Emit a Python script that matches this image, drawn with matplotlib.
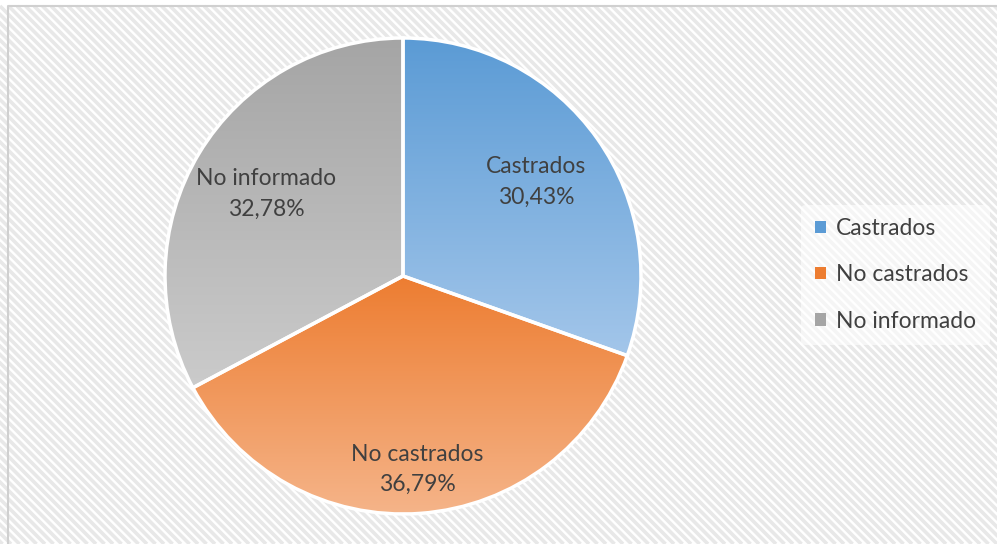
import numpy as np
import matplotlib.pyplot as plt
from matplotlib.collections import LineCollection
from matplotlib.colors import LinearSegmentedColormap
from matplotlib.patches import Rectangle

# Porcentaje de animales según castración
categorias = ['Castrados', 'No castrados', 'No informado']
porcentajes = [30.43, 36.79, 32.78]

# colores de cada porción (arriba -> abajo del degradado)
colores_sup = ['#5b9bd5', '#ed7d31', '#a5a5a5']
colores_inf = ['#a3c6ea', '#f5b489', '#cbcbcb']
dist_etiqueta = [0.685, 0.815, 0.67]

W, H = 997, 544
fig = plt.figure(figsize=(W / 100, H / 100), dpi=100)
plt.rcParams['font.family'] = ['Lato', 'DejaVu Sans']
ax = fig.add_axes([0, 0, 1, 1])

# fondo rayado en diagonal
x0, y0 = 8, H - 6
ax.add_patch(Rectangle((0, 0), W, H, facecolor='white', edgecolor='none', zorder=0))
segs = []
for c in np.arange(-H, W + H, 8.5):
    segs.append([(c, y0), (c + y0, 0)])
stripes = LineCollection(segs, colors='#e8e8e8', linewidths=2.6, zorder=0.5)
area = Rectangle((x0, 0), W - x0, y0, transform=ax.transData)
stripes.set_clip_path(area)
ax.add_collection(stripes)
ax.plot([x0, x0, W], [0, y0, y0], color='#d0d0d0', lw=1.5, zorder=1)

centro = (403, H - 276)
radio = 238
wedges, _ = ax.pie(porcentajes, center=centro, radius=radio, startangle=90,
                   counterclock=False, colors=colores_sup,
                   wedgeprops=dict(edgecolor='white', linewidth=2.5))

grad = np.linspace(0, 1, 256).reshape(-1, 1)
for w, c1, c2, d, nombre, p in zip(wedges, colores_sup, colores_inf,
                                    dist_etiqueta, categorias, porcentajes):
    ext = w.get_path().transformed(w.get_patch_transform()).get_extents()
    cmap = LinearSegmentedColormap.from_list('g', [c1, c2])
    im = ax.imshow(grad, cmap=cmap, aspect='auto', origin='upper',
                   extent=[ext.x0, ext.x1, ext.y0, ext.y1], zorder=2)
    im.set_clip_path(w)
    w.set_facecolor('none')
    w.set_zorder(3)
    ang = np.deg2rad((w.theta1 + w.theta2) / 2)
    tx = centro[0] + d * radio * np.cos(ang)
    ty = centro[1] + d * radio * np.sin(ang)
    ax.text(tx, ty, f'{nombre}\n{p:.2f}%'.replace('.', ','), ha='center',
            va='center', fontsize=16.5, color='#404040', linespacing=1.55, zorder=4)

leg = ax.legend([Rectangle((0, 0), 1, 1, facecolor=c) for c in colores_sup],
                categorias, loc='center left', bbox_to_anchor=(790 / W, 1 - 275 / H),
                frameon=True, fontsize=16.5, handlelength=0.45, handleheight=0.45,
                handletextpad=0.45, labelspacing=1.1, borderpad=0.6)
leg.get_frame().set_facecolor('white')
leg.get_frame().set_alpha(0.6)
leg.get_frame().set_edgecolor('none')
for t in leg.get_texts():
    t.set_color('#404040')

ax.set_xlim(0, W)
ax.set_ylim(0, H)
ax.axis('off')
fig.savefig('out.png', dpi=100)
